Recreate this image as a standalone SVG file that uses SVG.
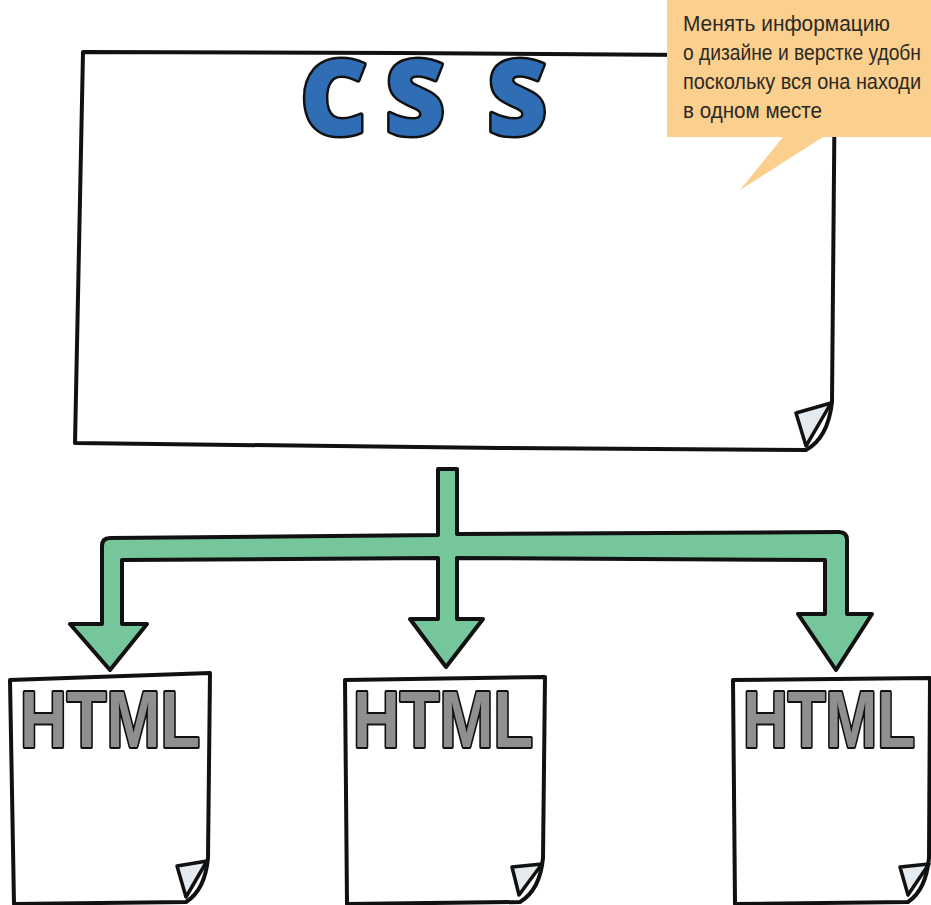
<svg xmlns="http://www.w3.org/2000/svg" width="931" height="905" viewBox="0 0 931 905">
<style>
.page{fill:#ffffff;stroke:#111;stroke-width:4;stroke-linejoin:round}
.fold{fill:#e4eaee;stroke:#111;stroke-width:3.5;stroke-linejoin:round}
.css{font-family:"Open Sans","DejaVu Sans",sans-serif;font-weight:800;font-size:104px;fill:#2f6db5;stroke:#111;stroke-width:5;paint-order:stroke;stroke-linejoin:round}
.html{font-family:"Liberation Sans",Arial,sans-serif;font-weight:bold;font-size:80px;fill:#8d8f90;stroke:#111;stroke-width:4;paint-order:stroke;stroke-linejoin:round}
.note{font-family:"Liberation Sans",Arial,sans-serif;font-size:22px;fill:#2b2925}
.arrow{fill:#76c69c;stroke:#111;stroke-width:4;stroke-linejoin:round}
</style>
<rect width="931" height="905" fill="#ffffff"/>
<g id="css-node">
<path class="page" d="M83,52 L400,53 L835,56 L832,402 Q828,438 806,450 L500,448 L75,443 Z"/>
<path class="fold" d="M796,413 L831,403 Q819,424 806,446 Z"/>
<text class="css" y="135"><tspan x="300">C</tspan><tspan x="385">S</tspan><tspan x="487">S</tspan></text>
</g>
<g id="connectors">
<path class="arrow" d="M438,469 L457,469 L457,534 L839,532 Q847,532 847,540 L847,614 L872,614 L836,670 L798,614 L825,614 L825,560 L457,558 L457,619 L483,619 L446,667 L410,619 L438,619 L438,558 L122,560 L122,624 L147,624 L110,670 L70,624 L102,624 L102,546 Q102,538 110,538 L438,535 Z"/>
</g>
<g id="html-1">
<path class="page" d="M10,680 L210,673 L208,858 Q205,890 186,902 L14,904 Z"/>
<path class="fold" d="M177,866 L207,861 Q196,880 186,897 Z"/>
<text class="html" x="20" y="747" textLength="180" lengthAdjust="spacingAndGlyphs">HTML</text>
</g>
<g id="html-2">
<path class="page" d="M345,680 L545,677 L543,858 Q540,890 520,902 L347,904 Z"/>
<path class="fold" d="M512,867 L542,864 Q530,880 519,895 Z"/>
<text class="html" x="353" y="747" textLength="180" lengthAdjust="spacingAndGlyphs">HTML</text>
</g>
<g id="html-3">
<path class="page" d="M733,680 L930,678 L929,858 Q926,890 908,902 L735,904 Z"/>
<path class="fold" d="M900,867 L929,864 Q918,880 908,895 Z"/>
<text class="html" x="743" y="747" textLength="172" lengthAdjust="spacingAndGlyphs">HTML</text>
</g>
<g id="callout">
<path d="M667,0 L931,0 L931,137 L823,137 L740,190 L783,137 L667,137 Z" fill="#fbcf8e"/>
<text class="note" x="683" y="31" textLength="207" lengthAdjust="spacingAndGlyphs">Менять информацию</text>
<text class="note" x="683" y="60" textLength="238" lengthAdjust="spacingAndGlyphs">о дизайне и верстке удобн</text>
<text class="note" x="683" y="89" textLength="238" lengthAdjust="spacingAndGlyphs">поскольку вся она находи</text>
<text class="note" x="683" y="118" textLength="139" lengthAdjust="spacingAndGlyphs">в одном месте</text>
</g>
</svg>
